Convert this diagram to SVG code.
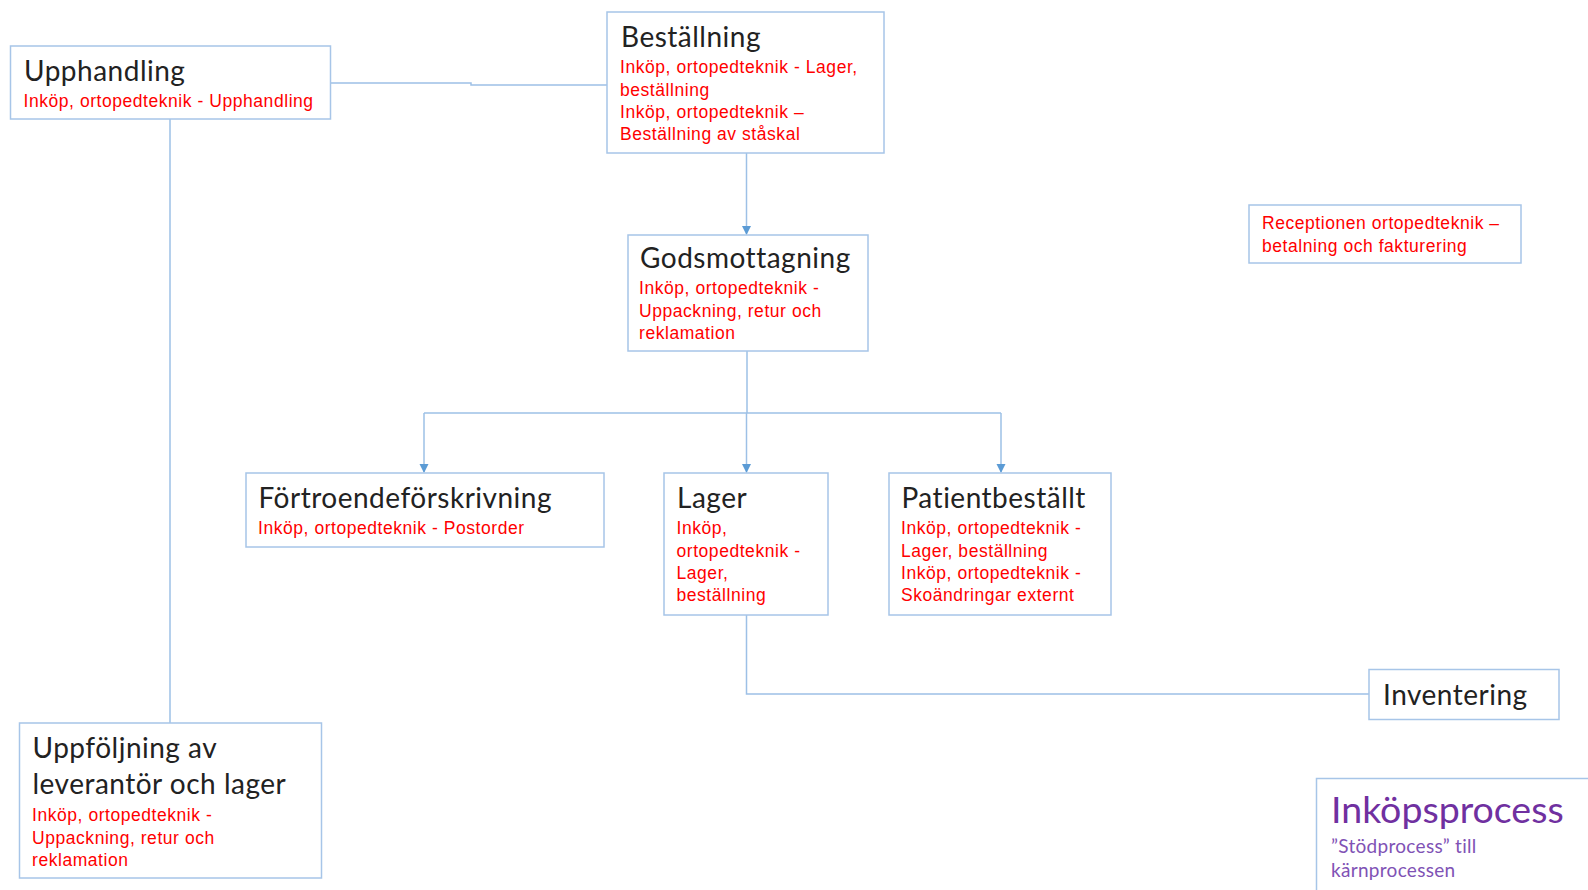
<svg xmlns="http://www.w3.org/2000/svg" width="1588" height="890" viewBox="0 0 1588 890">
<defs>
<style>
.box{fill:#ffffff;stroke:#a7c5e8;stroke-width:1.5}
.t{font-family:Lato,"Open Sans","Liberation Sans",sans-serif;font-size:28px;letter-spacing:0.5px;fill:#222222}
.r{font-family:"Liberation Sans",Arial,sans-serif;font-size:17.5px;letter-spacing:0.55px;fill:#ff0000}
.p1{font-family:Lato,"Open Sans",sans-serif;font-size:37.5px;fill:#7030a0}
.p2{font-family:Lato,"Open Sans",sans-serif;font-size:19px;letter-spacing:0.3px;fill:#8052b5}
.c{fill:none;stroke:#9dc0e6;stroke-width:1.5}
</style>
<marker id="ah" markerWidth="10" markerHeight="10" refX="8" refY="4.5" orient="auto" markerUnits="userSpaceOnUse">
<path d="M0,0 L9,4.5 L0,9 Z" fill="#5b9bd5"/>
</marker>
</defs>
<rect width="1588" height="890" fill="#ffffff"/>
<g id="connectors">
<path class="c" d="M330,83 H471 V85 H607"/>
<path class="c" d="M170,119 V723"/>
<path class="c" d="M746.5,153 V234" marker-end="url(#ah)"/>
<path class="c" d="M747,351 V413"/>
<path class="c" d="M424,413 H1001"/>
<path class="c" d="M424,413 V472" marker-end="url(#ah)"/>
<path class="c" d="M746.5,413 V472" marker-end="url(#ah)"/>
<path class="c" d="M1001,413 V472" marker-end="url(#ah)"/>
<path class="c" d="M746.5,615 V694 H1369"/>
</g>
<g id="upphandling">
<rect class="box" x="10.5" y="46" width="320" height="73"/>
<text class="t" x="24" y="81">Upphandling</text>
<text class="r" x="23.5" y="106.5">Inköp, ortopedteknik - Upphandling</text>
</g>
<g id="bestallning">
<rect class="box" x="607" y="12" width="277" height="141"/>
<text class="t" x="621" y="47">Beställning</text>
<text class="r" x="620" y="73">Inköp, ortopedteknik - Lager,</text>
<text class="r" x="620" y="95.5">beställning</text>
<text class="r" x="620" y="117.5">Inköp, ortopedteknik –</text>
<text class="r" x="620" y="140">Beställning av ståskal</text>
</g>
<g id="godsmottagning">
<rect class="box" x="628" y="235" width="240" height="116"/>
<text class="t" x="640" y="268">Godsmottagning</text>
<text class="r" x="639" y="294">Inköp, ortopedteknik -</text>
<text class="r" x="639" y="316.5">Uppackning, retur och</text>
<text class="r" x="639" y="339">reklamation</text>
</g>
<g id="fortroende">
<rect class="box" x="246" y="473" width="358" height="74"/>
<text class="t" x="258.5" y="507.5">Förtroendeförskrivning</text>
<text class="r" x="258" y="534">Inköp, ortopedteknik - Postorder</text>
</g>
<g id="lager">
<rect class="box" x="664" y="473" width="164" height="142"/>
<text class="t" x="677" y="507.5">Lager</text>
<text class="r" x="676.5" y="534">Inköp,</text>
<text class="r" x="676.5" y="556.5">ortopedteknik -</text>
<text class="r" x="676.5" y="578.5">Lager,</text>
<text class="r" x="676.5" y="601">beställning</text>
</g>
<g id="patientbestallt">
<rect class="box" x="889" y="473" width="222" height="142"/>
<text class="t" x="901.5" y="507.5">Patientbeställt</text>
<text class="r" x="901" y="534">Inköp, ortopedteknik -</text>
<text class="r" x="901" y="556.5">Lager, beställning</text>
<text class="r" x="901" y="578.5">Inköp, ortopedteknik -</text>
<text class="r" x="901" y="601">Skoändringar externt</text>
</g>
<g id="receptionen">
<rect class="box" x="1249" y="205" width="272" height="58"/>
<text class="r" x="1262" y="229">Receptionen ortopedteknik –</text>
<text class="r" x="1262" y="251.5">betalning och fakturering</text>
</g>
<g id="inventering">
<rect class="box" x="1369" y="669.5" width="190" height="50"/>
<text class="t" x="1383" y="705">Inventering</text>
</g>
<g id="uppfoljning">
<rect class="box" x="19.5" y="723" width="302" height="155"/>
<text class="t" x="32.5" y="757.5">Uppföljning av</text>
<text class="t" x="32.5" y="794">leverantör och lager</text>
<text class="r" x="32" y="821">Inköp, ortopedteknik -</text>
<text class="r" x="32" y="843.5">Uppackning, retur och</text>
<text class="r" x="32" y="866">reklamation</text>
</g>
<g id="inkopsprocess">
<rect class="box" x="1316.5" y="778.5" width="300" height="150"/>
<text class="p1" x="1331" y="823">Inköpsprocess</text>
<text class="p2" x="1331" y="853">”Stödprocess” till</text>
<text class="p2" x="1331" y="877">kärnprocessen</text>
</g>
</svg>
